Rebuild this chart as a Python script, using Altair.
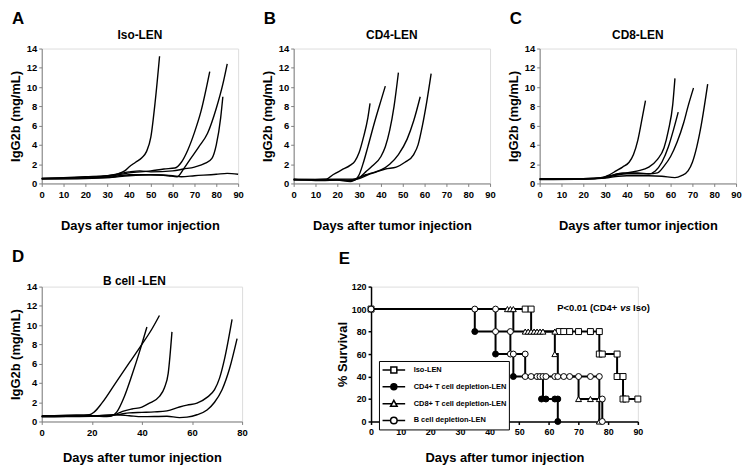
import altair as alt
import pandas as pd

FONT = "Liberation Sans"
XTITLE = "Days after tumor injection"
YTITLE = "IgG2b (mg/mL)"

# ---------------- IgG2b curves (day, mg/mL) ----------------
A_DAYS = [
    [0, 10, 20, 30, 35, 38, 40, 43, 46, 48, 50, 52, 54],
    [0, 20, 30, 40, 50, 56, 61, 64, 67, 70, 73, 77],
    [0, 20, 30, 40, 50, 58, 62, 65, 68, 72, 76, 80, 83, 85],
    [0, 20, 30, 40, 45, 50, 60, 65, 70, 75, 78, 80, 82, 83],
    [0, 20, 30, 40, 50, 60, 64, 70, 80, 85, 90],
]
A_VALS = [
    [0.5, 0.55, 0.65, 0.8, 1.0, 1.3, 1.7, 2.2, 2.7, 3.3, 4.8, 8.5, 13.2],
    [0.5, 0.6, 0.7, 1.1, 1.3, 1.5, 1.6, 2.2, 3.5, 5.3, 7.5, 11.6],
    [0.45, 0.5, 0.6, 0.9, 0.9, 0.8, 0.7, 1.5, 2.5, 3.8, 5.2, 7.8, 10.3, 12.4],
    [0.5, 0.7, 0.8, 1.2, 1.3, 1.2, 1.3, 1.5, 1.7, 2.1, 2.6, 4.0, 6.8, 9.0],
    [0.55, 0.55, 0.6, 0.8, 0.9, 0.8, 0.7, 0.8, 0.95, 1.05, 0.95],
]

B_DAYS = [
    [0, 10, 15, 18, 22, 26, 28, 30, 32, 34, 35],
    [0, 10, 20, 25, 28, 30, 32, 34, 37, 40, 42],
    [0, 20, 27, 30, 33, 36, 40, 42, 44, 46, 48],
    [0, 10, 20, 26, 28, 30, 33, 36, 40, 44, 48, 52, 55, 58],
    [0, 10, 13, 20, 26, 30, 34, 38, 42, 47, 51, 55, 57, 59, 61, 63],
]
B_VALS = [
    [0.4, 0.4, 0.45, 0.9, 1.4, 1.9, 2.3, 3.2, 4.8, 6.8, 8.3],
    [0.35, 0.35, 0.4, 0.35, 0.4, 0.9, 2.2, 3.8, 6.3, 8.6, 10.1],
    [0.4, 0.45, 0.45, 0.6, 1.2, 1.8, 2.8, 3.8, 5.5, 8.0, 11.5],
    [0.45, 0.4, 0.35, 0.2, 0.35, 0.6, 0.9, 1.1, 1.4, 2.0, 3.0, 4.6, 6.5, 9.0],
    [0.45, 0.3, 0.3, 0.35, 0.3, 0.5, 0.9, 1.2, 1.5, 1.7, 2.2, 3.0, 4.0, 6.0, 8.5, 11.4],
]

C_DAYS = [
    [0, 20, 28, 32, 35, 38, 41, 43, 45, 47, 48.5],
    [0, 20, 28, 32, 36, 40, 45, 50, 54, 57, 59, 61, 62],
    [0, 20, 30, 36, 40, 46, 50, 53, 56, 59, 61, 63.5],
    [0, 20, 30, 36, 40, 45, 50, 54, 57, 60, 63, 66, 68, 70.5],
    [0, 20, 30, 36, 40, 50, 56, 62, 65, 68, 70, 72, 74, 77],
]
C_VALS = [
    [0.5, 0.5, 0.55, 0.9, 1.3, 1.7, 2.2, 3.0, 4.5, 6.8, 8.6],
    [0.45, 0.5, 0.6, 0.8, 1.0, 1.1, 1.3, 1.7, 2.5, 3.7, 5.5, 8.2, 10.9],
    [0.45, 0.45, 0.6, 0.9, 1.0, 1.0, 1.0, 1.3, 2.2, 3.8, 5.3, 7.4],
    [0.4, 0.45, 0.6, 1.0, 1.1, 1.1, 1.0, 1.1, 1.8, 2.8, 4.3, 6.3, 8.0, 9.9],
    [0.45, 0.45, 0.55, 0.75, 0.8, 0.8, 0.75, 0.6, 0.8, 1.3, 2.2, 3.8, 6.0, 10.3],
]

D_DAYS = [
    [0, 10, 19, 21, 24, 30, 35, 40, 44, 47],
    [0, 10, 20, 26, 28, 30, 33, 36, 39, 42],
    [0, 10, 20, 26, 30, 33, 36, 40, 43, 47, 49, 50.5, 52],
    [0, 10, 20, 30, 35, 40, 45, 50, 55, 58, 62, 66, 69, 71, 73, 76],
    [0, 10, 20, 30, 35, 40, 50, 55, 58, 62, 66, 69, 72, 75, 78],
]
D_VALS = [
    [0.55, 0.65, 0.7, 1.0, 1.9, 4.2, 6.1, 8.0, 9.6, 11.0],
    [0.6, 0.6, 0.6, 0.55, 0.6, 1.0, 2.6, 4.8, 7.2, 9.8],
    [0.5, 0.55, 0.6, 0.5, 0.8, 1.1, 1.3, 1.5, 1.9, 2.6, 3.5, 5.0, 9.3],
    [0.5, 0.55, 0.6, 0.7, 0.9, 0.95, 1.0, 1.1, 1.5, 1.7, 1.9, 2.5, 3.3, 4.5, 6.5, 10.6],
    [0.5, 0.5, 0.55, 0.7, 0.6, 0.5, 0.55, 0.4, 0.45, 0.7, 1.2, 2.0, 3.3, 5.5, 8.6],
]

# ---------------- Survival (Kaplan-Meier) ----------------
KM_GROUPS = ["Iso-LEN", "CD4+ T cell depletion-LEN",
             "CD8+ T cell depletion-LEN", "B cell depletion-LEN"]
KM_TIMES = [[0, 54, 77, 83, 85, 90],
            [0, 35, 42, 48, 58, 63],
            [0, 48, 62, 63, 70, 77],
            [0, 42, 47, 52, 77, 78]]
KM_SURV = [[100, 80, 60, 40, 20, 20],
           [100, 80, 60, 40, 20, 0],
           [100, 80, 60, 40, 20, 0],
           [100, 80, 60, 40, 20, 0]]

MK_ISO_T = [0, 52, 54, 63.5, 65, 67, 70, 74, 77, 77, 78, 83, 83, 85, 85, 86, 90]
MK_ISO_S = [100, 100, 100, 80, 80, 80, 80, 80, 80, 60, 60, 60, 40, 40, 20, 20, 20]
MK_CD4_T = [35, 42, 48, 57.5, 59, 62, 63, 63]
MK_CD4_S = [80, 60, 40, 20, 20, 20, 20, 0]
MK_CD8_T = [46, 47, 48, 52, 53, 54, 55, 56, 57, 58, 62, 62, 70, 74, 77, 77]
MK_CD8_S = [100, 100, 100, 80, 80, 80, 80, 80, 80, 80, 80, 60, 20, 20, 20, 0]
MK_B_T = [0, 35, 42, 42, 47, 47, 48, 52, 52, 54, 56, 57, 58, 59, 62, 63, 65, 67, 70, 74, 77, 78, 78]
MK_B_S = [100, 100, 100, 80, 80, 60, 60, 60, 40, 40, 40, 40, 40, 40, 40, 40, 40, 40, 40, 40, 40, 20, 0]

KM_SHAPES = ["square", "circle", "triangle-up", "circle"]
KM_FILLS = ["white", "black", "white", "white"]
# legend symbols: a line with the marker in its middle
LEG_PATHS = [
    "M-1.9,0H-0.5M0.5,0H1.9M-0.5,-0.5H0.5V0.5H-0.5Z",
    "M-1.9,0H-0.5M0.5,0H1.9M0.5,0A0.5,0.5 0 1,1 -0.5,0A0.5,0.5 0 1,1 0.5,0Z",
    "M-1.9,0H-0.3M0.3,0H1.9M0,-0.55L0.55,0.45L-0.55,0.45Z",
    "M-1.9,0H-0.55M0.55,0H1.9M0.55,0A0.55,0.55 0 1,1 -0.55,0A0.55,0.55 0 1,1 0.55,0Z",
]
P_PARTS = ["P<0.01 (CD4+", "vs", "Iso)"]
P_DAY = [62.8]
P_SURV = [101]


def curves_df(days, vals):
    rows = []
    for i, (ds, vs) in enumerate(zip(days, vals)):
        for d, v in zip(ds, vs):
            rows.append({"mouse": i, "day": d, "value": v})
    return pd.DataFrame(rows)


def igg_panel(days, vals, xmax, name, width, height, t_off, xt_pad, name_as_text=False):
    xa = alt.Axis(values=list(range(0, xmax + 1, 10)), title=XTITLE, grid=False,
                  tickSize=3, labelPadding=3, titlePadding=xt_pad, labelFlush=False,
                  labelFontSize=9.5, labelFontWeight="bold", labelColor="black",
                  titleFontSize=13, titleFontWeight="bold", titleColor="black",
                  domainColor="#808080", tickColor="#808080")
    ya = alt.Axis(values=list(range(0, 15, 2)), title=YTITLE, grid=False,
                  tickSize=3, labelPadding=2, titlePadding=4,
                  labelFontSize=9.5, labelFontWeight="bold", labelColor="black",
                  titleFontSize=13, titleFontWeight="bold", titleColor="black",
                  domainColor="#808080", tickColor="#808080")
    x = alt.X("day:Q", scale=alt.Scale(domain=[0, xmax], nice=False), axis=xa)
    y = alt.Y("value:Q", scale=alt.Scale(domain=[0, 14], nice=False), axis=ya)
    lines = alt.Chart(curves_df(days, vals)).mark_line(
        interpolate="monotone", color="black", strokeWidth=1.4
    ).encode(x=x, y=y, detail="mouse:N")
    if name_as_text:
        label = alt.Chart(pd.DataFrame({"name": [name]})).mark_text(
            align="center", baseline="alphabetic", font=FONT, fontSize=12,
            fontWeight="bold", color="black"
        ).encode(x=alt.datum(37), y=alt.value(-2), text="name:N")
        return alt.layer(lines, label).properties(width=width, height=height)
    return lines.properties(
        width=width, height=height,
        title=alt.Title(name, fontSize=12, fontWeight="bold", font=FONT,
                        color="black", offset=t_off, anchor="middle"),
    )


def lettered(chart, letter, offset, dx=3):
    return alt.vconcat(chart, title=alt.Title(letter, anchor="start", fontSize=17,
                                              fontWeight="bold", font=FONT,
                                              color="black", offset=offset, dx=dx))


# ---------------- Panel E ----------------
km_rows = []
for g, ts, ss in zip(KM_GROUPS, KM_TIMES, KM_SURV):
    for t, s in zip(ts, ss):
        km_rows.append({"group": g, "day": t, "surv": s})
km_df = pd.DataFrame(km_rows)

e_xa = alt.Axis(values=list(range(0, 91, 10)), title=XTITLE, grid=False,
                tickSize=3, labelPadding=3, titlePadding=15, labelFlush=False,
                labelFontSize=9, labelFontWeight="bold", labelColor="black",
                titleFontSize=13, titleFontWeight="bold", titleColor="black",
                domainColor="black", tickColor="black", domainWidth=1.5, tickWidth=1.5)
e_ya = alt.Axis(values=list(range(0, 121, 20)), title="% Survival", grid=False,
                tickSize=3, labelPadding=2, titlePadding=2,
                labelFontSize=9, labelFontWeight="bold", labelColor="black",
                titleFontSize=13, titleFontWeight="bold", titleColor="black",
                domainColor="black", tickColor="black", domainWidth=1.5, tickWidth=1.5)
ex = alt.X("day:Q", scale=alt.Scale(domain=[0, 90], nice=False), axis=e_xa)
ey = alt.Y("surv:Q", scale=alt.Scale(domain=[0, 120], nice=False), axis=e_ya)

km_lines = alt.Chart(km_df).mark_line(
    interpolate="step-after", color="black", strokeWidth=2
).encode(x=ex, y=ey, detail="group:N")


def marker_layer(ts, ss, shape, fill):
    df = pd.DataFrame({"day": ts, "surv": ss})
    return alt.Chart(df).mark_point(
        shape=shape, filled=True, fill=fill, stroke="black", strokeWidth=1,
        size=36, opacity=1
    ).encode(x=ex, y=ey)


markers = [
    marker_layer(MK_CD4_T, MK_CD4_S, KM_SHAPES[1], KM_FILLS[1]),
    marker_layer(MK_ISO_T, MK_ISO_S, KM_SHAPES[0], KM_FILLS[0]),
    marker_layer(MK_CD8_T, MK_CD8_S, KM_SHAPES[2], KM_FILLS[2]),
    marker_layer(MK_B_T, MK_B_S, KM_SHAPES[3], KM_FILLS[3]),
]

leg = alt.Legend(orient="none", legendX=340, legendY=315, title=None,
                 strokeColor="black", fillColor="white", padding=2,
                 symbolSize=144, symbolStrokeWidth=1.5, symbolStrokeColor="black",
                 symbolOffset=6, labelOffset=13, rowPadding=4,
                 labelFont=FONT, labelFontSize=7.5, labelFontWeight="bold",
                 labelColor="black", cornerRadius=0)

legend_layer = alt.Chart(km_df).transform_filter("false").mark_point(
    filled=True, size=144, strokeWidth=1.5, opacity=1
).encode(
    x=ex, y=ey,
    shape=alt.Shape("group:N", scale=alt.Scale(domain=KM_GROUPS, range=LEG_PATHS), legend=leg),
    fill=alt.Fill("group:N", scale=alt.Scale(domain=KM_GROUPS, range=KM_FILLS), legend=leg),
    stroke=alt.Stroke("group:N", scale=alt.Scale(domain=KM_GROUPS, range=["black"] * 4), legend=leg),
)

p_df = pd.DataFrame({"day": P_DAY, "surv": P_SURV})
p_dx = [0, 63.5, 76.5]
p_style = ["normal", "italic", "normal"]
p_layers = [
    alt.Chart(p_df).mark_text(
        align="left", baseline="middle", dx=dx, font=FONT,
        fontSize=9.5, fontWeight="bold", fontStyle=st, color="black"
    ).encode(x=ex, y=ey, text=alt.value(txt))
    for txt, dx, st in zip(P_PARTS, p_dx, p_style)
]

panel_e = alt.layer(km_lines, *markers, legend_layer, *p_layers).properties(width=269, height=136)

# ---------------- Layout ----------------
pa = lettered(igg_panel(A_DAYS, A_VALS, 90, "Iso-LEN", 198, 136, 2, 21), "A", 0)
pb = lettered(igg_panel(B_DAYS, B_VALS, 90, "CD4-LEN", 198, 136, 2, 21), "B", 0)
pc = lettered(igg_panel(C_DAYS, C_VALS, 90, "CD8-LEN", 198, 136, 2, 21), "C", 0)
pd_ = lettered(igg_panel(D_DAYS, D_VALS, 80, "B cell -LEN", 202, 136, 0, 15,
                         name_as_text=True), "D", 8)
pe = lettered(panel_e, "E", 14)

row1 = alt.hconcat(pa, alt.hconcat(pb, pc, spacing=10), spacing=16)
row2 = alt.hconcat(pd_, pe, spacing=88)

chart = alt.vconcat(row1, row2, spacing=15).properties(padding=0).configure_view(
    stroke=None
).configure(font=FONT)

chart.save("out.html", embed_options={"renderer": "svg", "actions": False})
